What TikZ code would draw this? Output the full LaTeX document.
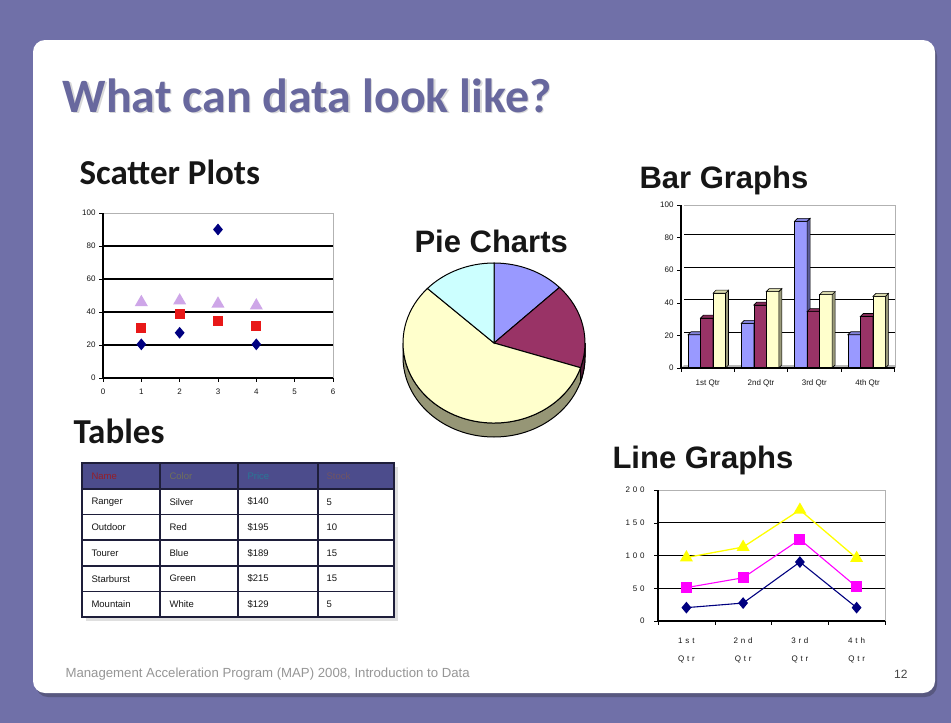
\documentclass[tikz,border=0pt]{standalone}
\usepackage{fontspec}
\setmainfont{Liberation Sans}
\newfontfamily\calibri{Carlito}
\newfontfamily\spaced[LetterSpace=35]{Liberation Sans}
\usetikzlibrary{shapes.geometric}

\definecolor{slidebg}{RGB}{112,112,168}
\definecolor{panelshade}{RGB}{88,88,128}
\definecolor{titlegrey}{RGB}{104,104,158}
\definecolor{headblack}{RGB}{22,22,22}
\definecolor{navyser}{RGB}{0,0,128}
\definecolor{redser}{RGB}{232,24,24}
\definecolor{lilacser}{RGB}{206,166,232}
\definecolor{magentaser}{RGB}{255,0,255}
\definecolor{yellowser}{RGB}{255,255,0}
\definecolor{barblue}{RGB}{153,153,255}
\definecolor{barmaroon}{RGB}{153,51,102}
\definecolor{baryellow}{RGB}{255,255,204}
\definecolor{piecyan}{RGB}{204,255,255}
\definecolor{pieside}{RGB}{150,150,118}
\definecolor{tablehead}{RGB}{76,76,140}
\definecolor{tableline}{RGB}{30,30,58}
\definecolor{footgrey}{RGB}{150,150,150}

\newcommand\colbar[4]{%
  \filldraw[fill=#4, line width=.6pt] (#1,0) rectangle (#1+#2,#3);
  \filldraw[fill=#4!60!black, line width=.6pt] (#1+#2,0) -- (#1+#2,#3) -- ++(3pt,3pt) -- ++(0,-#3) -- cycle;
  \filldraw[fill=#4!85!black, line width=.6pt] (#1,#3) -- ++(3pt,3pt) -- ++(#2,0) -- (#1+#2,#3) -- cycle;}

\begin{document}
\begin{tikzpicture}[x=1pt,y=-1pt,
	heading/.style={anchor=base west, text=headblack, font=\fontsize{31}{31}\selectfont\bfseries},
	calhead/.style={anchor=base west, text=headblack, font=\calibri\bfseries\fontsize{35}{35}\selectfont},
	ticklabel/.style={text=headblack, font=\fontsize{8}{8}\selectfont},
	dmark/.style={diamond, fill=navyser, inner sep=0pt, minimum width=10pt, minimum height=12pt},
	smark/.style={fill=#1, inner sep=0pt, minimum size=10pt},
	tmark/.style={regular polygon, regular polygon sides=3, fill=#1, inner sep=0pt, minimum size=15pt},
	cell/.style={anchor=west, text=headblack, font=\fontsize{9.5}{9.5}\selectfont}]
	\useasboundingbox (0,0) rectangle (951,723);
	\fill[slidebg] (0,0) rectangle (951,723);
	\fill[panelshade, rounded corners=12pt] (36,44) rectangle (937,697);
	\fill[white, rounded corners=12pt] (33,40) rectangle (935,693);
	
	\node[anchor=base west, text=gray!30, font=\calibri\bfseries\fontsize{48}{48}\selectfont] (titleshadow) at (60.5,113.5) {What can data look like?};
	\node[anchor=base west, text=titlegrey, font=\calibri\bfseries\fontsize{48}{48}\selectfont] (title) at (59,112) {What can data look like?};
	
	\node[calhead] (scatterhead) at (76,184) {Scatter Plots};
	\node[calhead] (tablehead) at (70,443) {Tables};
	\node[heading] (piehead) at (411,252) {Pie Charts};
	\node[heading] (barhead) at (636,188) {Bar Graphs};
	\node[heading] (linehead) at (609,468) {Line Graphs};
	
	% scatter plot
	\begin{scope}[shift={(103,378)}, x=38.33pt, y=1.65pt]
		\draw[gray!60] (0,100) -- (6,100) -- (6,0);
		\foreach \g in {20,40,60,80}
			\draw[line width=1.1pt] (0,\g) -- (6,\g);
		\draw[line width=1.1pt] (0,0) -- (6,0);
		\draw[line width=1.1pt] (0,0) -- (0,100);
		\foreach \y in {0,20,...,100}
			\draw (0,\y) -- ++(-4pt,0) node[left, ticklabel] {\y};
		\foreach \x in {0,...,6}
			\draw (\x,0) -- ++(0,-4pt) node[below, ticklabel, yshift=-3pt] {\x};
		\foreach \a/\b/\c [count=\i] in {20.4/30.6/45.9, 27.4/38.6/46.9, 90/34.6/45, 20.4/31.6/43.9} {
			\node[tmark=lilacser] (sctri\i) at (\i,\c) {};
			\node[smark=redser] (scsq\i) at (\i,\b) {};
			\node[dmark] (scdia\i) at (\i,\a) {};
		}
	\end{scope}
	
	% table
	\fill[gray!25] (86,467) rectangle (398,621);
	\fill[white] (82,463) rectangle (394,617);
	\fill[tablehead] (82,463) rectangle (394,489);
	\foreach \r in {0,...,4}
		\draw[tableline, line width=1.5pt] (82,{489+25.6*\r}) -- (394,{489+25.6*\r});
	\foreach \x in {160,238,318}
		\draw[tableline, line width=1.8pt] (\x,463) -- (\x,617);
	\draw[tableline, line width=1.8pt] (82,463) rectangle (394,617);
	\node[cell, text={rgb,255:red,150;green,30;blue,40}] (hname) at (88,476) {Name};
	\node[cell, text={rgb,255:red,112;green,112;blue,90}] (hcolor) at (166,476) {Color};
	\node[cell, text={rgb,255:red,40;green,120;blue,150}] (hprice) at (244,476) {Price};
	\node[cell, text={rgb,255:red,112;green,84;blue,100}] (hstock) at (323,476) {Stock};
	\foreach \a/\b/\c/\d [count=\r] in {Ranger/Silver/\$140/5, Outdoor/Red/\$195/10, Tourer/Blue/\$189/15, Starburst/Green/\$215/15, Mountain/White/\$129/5} {
		\node[cell] (name\r) at (88,{476.2+25.6*\r}) {\a};
		\node[cell] (color\r) at (166,{476.2+25.6*\r}) {\b};
		\node[cell] (price\r) at (244,{476.2+25.6*\r}) {\c};
		\node[cell] (stock\r) at (323,{476.2+25.6*\r}) {\d};
	}
	
	% pie chart
	\begin{scope}[shift={(494,343)}, x=1pt, y=1pt]
		\filldraw[fill=pieside, line width=1pt] (-91,0) arc[start angle=180, end angle=360, x radius=91, y radius=80] -- (91,-14) arc[start angle=360, end angle=180, x radius=91, y radius=80] -- cycle;
		\filldraw[fill=barmaroon!55!black, line width=1pt] ({91*cos(-18)},{80*sin(-18)}) arc[start angle=-18, end angle=0, x radius=91, y radius=80] -- (91,-14) arc[start angle=0, end angle=-18, x radius=91, y radius=80] -- cycle;
		\foreach \a/\b/\c in {90/44/barblue, 44/-18/barmaroon, -18/-223/baryellow, 137/90/piecyan}
			\filldraw[fill=\c, line width=1pt] (0,0) -- ({91*cos(\a)},{80*sin(\a)}) arc[start angle=\a, end angle=\b, x radius=91, y radius=80] -- cycle;
	\end{scope}
	
	% bar graph
	\begin{scope}[shift={(681,368)}, x=1pt, y=1.63pt]
		\fill[gray!55] (0,0) -- ++(3pt,3pt) -- ++(211pt,0) -- (214,0) -- cycle;
		\draw[gray!60] (3,100) -- (214,100) -- (214,0);
		\foreach \g in {20,40,60,80}
			\draw[line width=1.1pt] (3,\g) ++(0,3pt) -- ++(211pt,0);
		\foreach \a/\b/\c [count=\i from 0] in {20.4/30.6/45.9, 27.4/38.6/46.9, 90/34.6/45, 20.4/31.6/43.9} {
			\colbar{53.3*\i+7}{12.5}{\a}{barblue}
			\colbar{53.3*\i+19.5}{12.5}{\b}{barmaroon}
			\colbar{53.3*\i+32}{12.5}{\c}{baryellow}
		}
		\draw[line width=1.1pt] (0,0) -- (0,100);
		\draw[line width=1.1pt] (0,0) -- (214,0);
		\foreach \y in {0,20,...,100}
			\draw (0,\y) -- ++(-4pt,0) node[left, ticklabel] {\y};
		\foreach \i in {0,...,4}
			\draw ({53.3*\i},0) -- ++(0,-4pt);
		\foreach \q [count=\i] in {1st,2nd,3rd,4th}
			\node[ticklabel, yshift=-15pt] (barq\i) at ({53.3*\i-26.6},0) {\q\ Qtr};
	\end{scope}
	
	% line graph
	\begin{scope}[shift={(658,621)}, x=1pt, y=0.655pt]
		\draw[gray!60] (0,200) -- (227,200) -- (227,0);
		\foreach \g in {50,100,150}
			\draw[line width=1.1pt] (0,\g) -- (227,\g);
		\draw[line width=1.1pt] (0,0) -- (0,200);
		\draw[line width=1.1pt] (0,0) -- (227,0);
		\foreach \y in {0,50,...,200}
			\draw (0,\y) -- ++(-4pt,0) node[left, ticklabel, xshift=-6pt] {\spaced\y};
		\foreach \i in {0,...,4}
			\draw ({56.75*\i},0) -- ++(0,-4pt);
		\foreach \q [count=\i] in {1st,2nd,3rd,4th}
			\node[ticklabel, align=center, font=\spaced\fontsize{8}{18}\selectfont, yshift=-29pt] (lineq\i) at ({56.75*\i-28.4},0) {\q\\Qtr};
		\draw[yellowser, line width=1.3pt] (28.4,96.9) -- (85.1,112.9) -- (141.9,169.6) -- (198.6,95.9);
		\draw[magentaser, line width=1.1pt] (28.4,51) -- (85.1,66) -- (141.9,124.6) -- (198.6,52);
		\draw[navyser, line width=1.1pt] (28.4,20.4) -- (85.1,27.4) -- (141.9,90) -- (198.6,20.4);
		\foreach \x/\a/\b/\c [count=\i] in {28.4/20.4/51/96.9, 85.1/27.4/66/112.9, 141.9/90/124.6/169.6, 198.6/20.4/52/95.9} {
			\node[tmark=yellowser] (lntri\i) at (\x,\c) {};
			\node[smark=magentaser, minimum size=11pt] (lnsq\i) at (\x,\b) {};
			\node[dmark] (lndia\i) at (\x,\a) {};
		}
	\end{scope}
	
	\node[anchor=base west, text=footgrey, font=\fontsize{13.2}{13.2}\selectfont] (footer) at (62,677) {Management Acceleration Program (MAP) 2008, Introduction to Data};
	\node[anchor=base east, text=headblack!80, font=\fontsize{12}{12}\selectfont] (pagenum) at (911,678) {12};
\end{tikzpicture}
\end{document}
